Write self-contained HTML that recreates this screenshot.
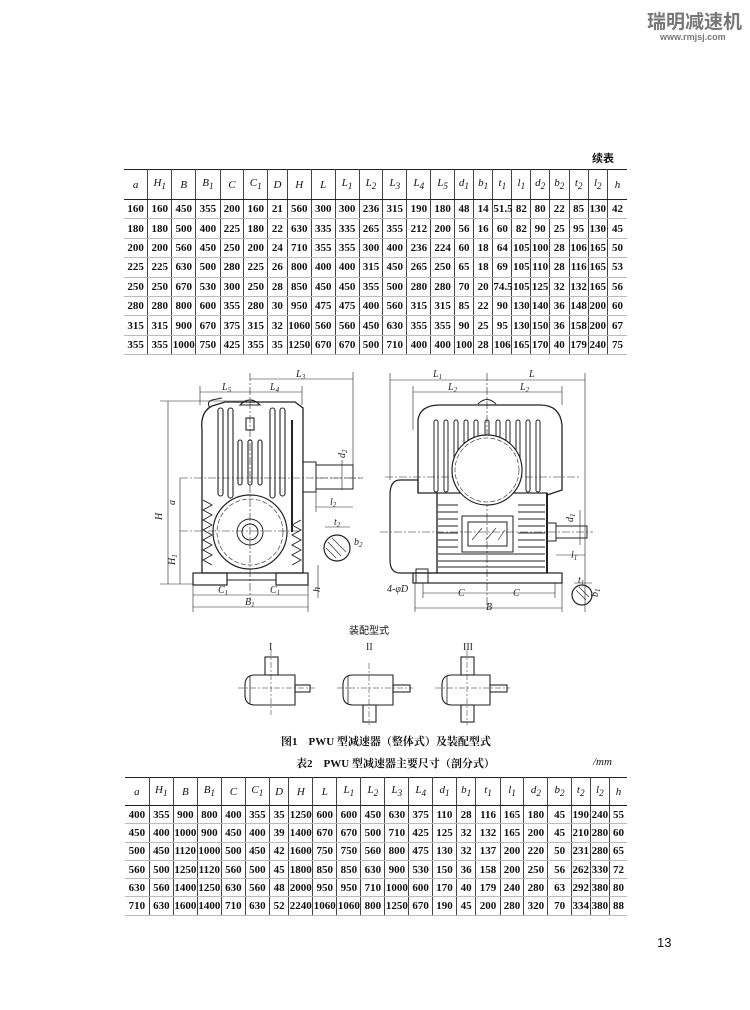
<!DOCTYPE html>
<html><head><meta charset="utf-8">
<style>
body{margin:0;background:#fff;}
#pg{position:relative;width:750px;height:1010px;overflow:hidden;background:#fff;font-family:"Liberation Serif","Noto Serif CJK SC",serif;color:#111;}
.t{position:absolute;border-collapse:collapse;table-layout:fixed;font-size:11px;font-weight:600;}
.t td{text-align:center;padding:0;border-left:1px solid #444;border-bottom:1px solid #bbb;white-space:nowrap;overflow:visible;}
.t td:first-child{border-left:none;}
.t tr.hd td{font-style:italic;font-weight:normal;border-bottom:1.5px solid #222;}
.t{border-top:1.5px solid #222;border-bottom:1.5px solid #222;}
.abs{position:absolute;white-space:nowrap;}
</style></head><body><div id="pg">
<div class="abs" style="left:647px;top:7px;font-family:'Noto Sans CJK SC',sans-serif;font-weight:bold;font-size:19px;color:#777;">瑞明减速机</div>
<div class="abs" style="left:660px;top:32px;font-family:'Liberation Sans',sans-serif;font-weight:bold;font-size:9px;color:#777;">www.rmjsj.com</div>
<div class="abs" style="left:592px;top:150px;font-family:'Noto Sans CJK SC',sans-serif;font-weight:bold;font-size:11px;">续表</div>

<table class="t" style="left:124px;top:169px;width:503px;">
<colgroup><col style="width:23.7px"><col style="width:24px"><col style="width:24px"><col style="width:24.3px"><col style="width:23.7px"><col style="width:24px"><col style="width:19.3px"><col style="width:24.3px"><col style="width:23.7px"><col style="width:24px"><col style="width:23.7px"><col style="width:24px"><col style="width:24px"><col style="width:23.6px"><col style="width:19px"><col style="width:19.4px"><col style="width:19px"><col style="width:19px"><col style="width:18.6px"><col style="width:19.7px"><col style="width:19px"><col style="width:19.3px"><col style="width:19.4px"></colgroup>
<tr class="hd" style="height:30px"><td>a</td><td>H<sub>1</sub></td><td>B</td><td>B<sub>1</sub></td><td>C</td><td>C<sub>1</sub></td><td>D</td><td>H</td><td>L</td><td>L<sub>1</sub></td><td>L<sub>2</sub></td><td>L<sub>3</sub></td><td>L<sub>4</sub></td><td>L<sub>5</sub></td><td>d<sub>1</sub></td><td>b<sub>1</sub></td><td>t<sub>1</sub></td><td>l<sub>1</sub></td><td>d<sub>2</sub></td><td>b<sub>2</sub></td><td>t<sub>2</sub></td><td>l<sub>2</sub></td><td>h</td></tr>
<tr style="height:19.4px"><td>160</td><td>160</td><td>450</td><td>355</td><td>200</td><td>160</td><td>21</td><td>560</td><td>300</td><td>300</td><td>236</td><td>315</td><td>190</td><td>180</td><td>48</td><td>14</td><td>51.5</td><td>82</td><td>80</td><td>22</td><td>85</td><td>130</td><td>42</td></tr>
<tr style="height:19.4px"><td>180</td><td>180</td><td>500</td><td>400</td><td>225</td><td>180</td><td>22</td><td>630</td><td>335</td><td>335</td><td>265</td><td>355</td><td>212</td><td>200</td><td>56</td><td>16</td><td>60</td><td>82</td><td>90</td><td>25</td><td>95</td><td>130</td><td>45</td></tr>
<tr style="height:19.4px"><td>200</td><td>200</td><td>560</td><td>450</td><td>250</td><td>200</td><td>24</td><td>710</td><td>355</td><td>355</td><td>300</td><td>400</td><td>236</td><td>224</td><td>60</td><td>18</td><td>64</td><td>105</td><td>100</td><td>28</td><td>106</td><td>165</td><td>50</td></tr>
<tr style="height:19.4px"><td>225</td><td>225</td><td>630</td><td>500</td><td>280</td><td>225</td><td>26</td><td>800</td><td>400</td><td>400</td><td>315</td><td>450</td><td>265</td><td>250</td><td>65</td><td>18</td><td>69</td><td>105</td><td>110</td><td>28</td><td>116</td><td>165</td><td>53</td></tr>
<tr style="height:19.4px"><td>250</td><td>250</td><td>670</td><td>530</td><td>300</td><td>250</td><td>28</td><td>850</td><td>450</td><td>450</td><td>355</td><td>500</td><td>280</td><td>280</td><td>70</td><td>20</td><td>74.5</td><td>105</td><td>125</td><td>32</td><td>132</td><td>165</td><td>56</td></tr>
<tr style="height:19.4px"><td>280</td><td>280</td><td>800</td><td>600</td><td>355</td><td>280</td><td>30</td><td>950</td><td>475</td><td>475</td><td>400</td><td>560</td><td>315</td><td>315</td><td>85</td><td>22</td><td>90</td><td>130</td><td>140</td><td>36</td><td>148</td><td>200</td><td>60</td></tr>
<tr style="height:19.4px"><td>315</td><td>315</td><td>900</td><td>670</td><td>375</td><td>315</td><td>32</td><td>1060</td><td>560</td><td>560</td><td>450</td><td>630</td><td>355</td><td>355</td><td>90</td><td>25</td><td>95</td><td>130</td><td>150</td><td>36</td><td>158</td><td>200</td><td>67</td></tr>
<tr style="height:19.4px"><td>355</td><td>355</td><td>1000</td><td>750</td><td>425</td><td>355</td><td>35</td><td>1250</td><td>670</td><td>670</td><td>500</td><td>710</td><td>400</td><td>400</td><td>100</td><td>28</td><td>106</td><td>165</td><td>170</td><td>40</td><td>179</td><td>240</td><td>75</td></tr>
</table>

<svg class="abs" style="left:0;top:0" width="750" height="1010" viewBox="0 0 750 1010" font-family="Liberation Serif, serif" font-style="italic" font-size="10" fill="none" stroke="#222" stroke-width="1">
<g>
<line x1="250" y1="373" x2="250" y2="600" stroke-dasharray="8 2 2 2" stroke-width=".6"/>
<line x1="180" y1="478" x2="363" y2="478" stroke-dasharray="8 2 2 2" stroke-width=".6"/>
<line x1="180" y1="531" x2="300" y2="531" stroke-dasharray="8 2 2 2" stroke-width=".6"/>
<path d="M202 573 L202 430 Q200 412 212 406 L225 402 L295 402 L303 408 L303 573 Z" stroke-width="1.3"/>
<path d="M210 408 Q206 402 212 400 L222 398" />
<g stroke-width="1.1">
<rect x="218" y="408" width="5" height="88" rx="2.5"/>
<rect x="228" y="408" width="5" height="90" rx="2.5"/>
<rect x="270" y="408" width="5" height="90" rx="2.5"/>
<rect x="280" y="408" width="5" height="88" rx="2.5"/>
<rect x="238" y="440" width="4" height="45" rx="2"/>
<rect x="248" y="440" width="4" height="45" rx="2"/>
<rect x="258" y="440" width="4" height="45" rx="2"/>
<path d="M240 405 Q250 395 260 405 Z"/>
<rect x="246" y="418" width="8" height="12"/>
<line x1="292" y1="420" x2="292" y2="532" stroke-width="2"/>
</g>
<path d="M203 500 L212 505 L203 510 L212 515 L203 520 L212 525 L203 530 L212 535 L203 540 L212 545 L203 550 L212 555 L203 560 L212 565" stroke-width=".9"/>
<path d="M301 520 L292 525 L301 530 L292 535 L301 540 L292 545 L301 550 L292 555 L301 560 L292 565" stroke-width=".9"/>
<circle cx="250" cy="532" r="37" stroke-width="1.2"/>
<circle cx="250" cy="532" r="33" stroke-dasharray="5 2" stroke-width=".6"/>
<circle cx="250" cy="532" r="13"/>
<circle cx="250" cy="532" r="8"/>
<rect x="193" y="573" width="34" height="12" stroke-width="1.2"/>
<rect x="276" y="573" width="32" height="12" stroke-width="1.2"/>
<line x1="227" y1="580" x2="276" y2="580"/>
<rect x="303" y="462" width="13" height="30"/>
<rect x="316" y="465" width="37" height="24"/>
<line x1="316" y1="478" x2="363" y2="478" stroke-dasharray="8 2 2 2" stroke-width=".6"/>
<circle cx="337" cy="548" r="13" stroke-width="1.2"/>
<path d="M328 542 L341 556 M332 538 L346 552 M326 548 L336 558" stroke-width=".6"/>
<g stroke-width=".6">
<line x1="250" y1="379" x2="353" y2="379"/><line x1="353" y1="372" x2="353" y2="465"/>
<line x1="200" y1="392" x2="302" y2="392"/><line x1="200" y1="386" x2="200" y2="405"/><line x1="302" y1="386" x2="302" y2="405"/>
<line x1="168" y1="401" x2="168" y2="584"/><line x1="160" y1="401" x2="245" y2="401"/><line x1="160" y1="584" x2="193" y2="584"/>
<line x1="180" y1="478" x2="180" y2="584"/>
<line x1="193" y1="595" x2="308" y2="595"/><line x1="193" y1="607" x2="308" y2="607"/>
<line x1="193" y1="585" x2="193" y2="612"/><line x1="308" y1="585" x2="308" y2="612"/>
<line x1="316" y1="507" x2="353" y2="507"/><line x1="316" y1="492" x2="316" y2="512"/>
<line x1="325" y1="527" x2="350" y2="527"/>
<line x1="318" y1="565" x2="318" y2="598"/>
<line x1="342" y1="460" x2="342" y2="490"/>
</g>
</g>
<g fill="#222" stroke="none" font-size="10">
<text x="222" y="390">L<tspan font-size="7" dy="2">5</tspan></text>
<text x="270" y="390">L<tspan font-size="7" dy="2">4</tspan></text>
<text x="296" y="377">L<tspan font-size="7" dy="2">3</tspan></text>
<text x="162" y="520" transform="rotate(-90 162 520)">H</text>
<text x="175" y="505" transform="rotate(-90 175 505)">a</text>
<text x="175" y="565" transform="rotate(-90 175 565)">H<tspan font-size="7" dy="2">1</tspan></text>
<text x="218" y="593">C<tspan font-size="7" dy="2">1</tspan></text>
<text x="270" y="593">C<tspan font-size="7" dy="2">1</tspan></text>
<text x="245" y="605">B<tspan font-size="7" dy="2">1</tspan></text>
<text x="330" y="505">l<tspan font-size="7" dy="2">2</tspan></text>
<text x="334" y="525">t<tspan font-size="7" dy="2">2</tspan></text>
<text x="354" y="545">b<tspan font-size="7" dy="2">2</tspan></text>
<text x="345" y="458" transform="rotate(-90 345 458)">d<tspan font-size="7" dy="2">2</tspan></text>
<text x="320" y="592" transform="rotate(-90 320 592)">h</text>
</g>

<g>
<line x1="487" y1="373" x2="487" y2="607" stroke-dasharray="8 2 2 2" stroke-width=".6"/>
<line x1="385" y1="477" x2="580" y2="477" stroke-dasharray="8 2 2 2" stroke-width=".6"/>
<line x1="380" y1="532" x2="593" y2="532" stroke-dasharray="8 2 2 2" stroke-width=".6"/>
<path d="M418 493 L418 420 Q420 405 440 405 L540 405 Q560 405 562 425 L562 490 L547 495" stroke-width="1.3"/>
<path d="M478 404 Q487 395 496 404"/>
<path d="M418 480 L400 480 Q390 480 390 495 L390 560 Q390 573 400 573 L437 573 L437 493 L418 493 Z" stroke-width="1.2"/>
<rect x="437" y="493" width="110" height="80" stroke-width="1.2"/>
<g stroke-width="1">
<rect x="434" y="420" width="4" height="72" rx="2"/><rect x="444" y="420" width="4" height="72" rx="2"/><rect x="454" y="420" width="4" height="40" rx="2"/><rect x="464" y="420" width="4" height="30" rx="2"/><rect x="474" y="420" width="4" height="22" rx="2"/><rect x="485" y="420" width="4" height="20" rx="2"/><rect x="496" y="420" width="4" height="22" rx="2"/><rect x="506" y="420" width="4" height="30" rx="2"/><rect x="516" y="420" width="4" height="40" rx="2"/><rect x="526" y="420" width="4" height="72" rx="2"/><rect x="536" y="420" width="4" height="72" rx="2"/>
</g>
<circle cx="487" cy="470" r="35" fill="#fff" stroke-width="1.2"/>
<circle cx="487" cy="470" r="32" stroke-dasharray="5 2" stroke-width=".6"/>
<g stroke-width=".9">
<line x1="438" y1="505" x2="458" y2="505"/><line x1="438" y1="512" x2="458" y2="512"/><line x1="438" y1="519" x2="458" y2="519"/><line x1="438" y1="526" x2="458" y2="526"/><line x1="438" y1="533" x2="458" y2="533"/><line x1="438" y1="540" x2="458" y2="540"/><line x1="438" y1="547" x2="458" y2="547"/><line x1="438" y1="554" x2="545" y2="554"/><line x1="438" y1="561" x2="545" y2="561"/><line x1="438" y1="567" x2="545" y2="567"/>
<line x1="518" y1="505" x2="545" y2="505"/><line x1="518" y1="512" x2="545" y2="512"/><line x1="518" y1="519" x2="545" y2="519"/><line x1="518" y1="526" x2="545" y2="526"/><line x1="518" y1="533" x2="545" y2="533"/><line x1="518" y1="540" x2="545" y2="540"/><line x1="518" y1="547" x2="545" y2="547"/>
</g>
<rect x="462" y="516" width="51" height="36"/>
<rect x="468" y="522" width="39" height="24"/>
<path d="M472 540 L482 528 M486 540 L496 528 M498 540 L505 530" stroke-width=".6"/>
<line x1="547" y1="493" x2="547" y2="573" stroke-width="2"/>
<rect x="413" y="573" width="149" height="10" stroke-width="1.2"/>
<rect x="416" y="569" width="12" height="14" stroke-width="1"/>
<rect x="547" y="523" width="9" height="18"/>
<rect x="556" y="526" width="31" height="12"/>
<circle cx="582" cy="595" r="10" stroke-width="1.2"/>
<path d="M576 590 L586 600 M579 587 L589 597" stroke-width=".6"/>
<g stroke-width=".6">
<line x1="390" y1="380" x2="585" y2="380"/><line x1="390" y1="373" x2="390" y2="480"/><line x1="585" y1="373" x2="585" y2="612"/>
<line x1="413" y1="392" x2="562" y2="392"/><line x1="413" y1="386" x2="413" y2="430"/><line x1="562" y1="386" x2="562" y2="405"/>
<line x1="423" y1="593" x2="555" y2="593"/><line x1="415" y1="608" x2="562" y2="608"/>
<line x1="415" y1="583" x2="415" y2="612"/><line x1="562" y1="583" x2="562" y2="612"/><line x1="423" y1="583" x2="423" y2="598"/><line x1="555" y1="583" x2="555" y2="598"/>
<line x1="556" y1="555" x2="585" y2="555"/>
<line x1="580" y1="510" x2="580" y2="545"/>
<line x1="574" y1="583" x2="592" y2="583"/>
</g>
</g>
<g fill="#222" stroke="none" font-size="10">
<text x="433" y="377">L<tspan font-size="7" dy="2">1</tspan></text>
<text x="529" y="377">L</text>
<text x="448" y="390">L<tspan font-size="7" dy="2">2</tspan></text>
<text x="520" y="390">L<tspan font-size="7" dy="2">2</tspan></text>
<text x="387" y="592">4-φD</text>
<text x="458" y="596">C</text>
<text x="513" y="596">C</text>
<text x="486" y="610">B</text>
<text x="571" y="558">l<tspan font-size="7" dy="2">1</tspan></text>
<text x="578" y="583">t<tspan font-size="7" dy="2">1</tspan></text>
<text x="598" y="597" transform="rotate(-90 598 597)">b<tspan font-size="7" dy="2">1</tspan></text>
<text x="573" y="522" transform="rotate(-90 573 522)">d<tspan font-size="7" dy="2">1</tspan></text>
</g>

<g stroke-width="1.1">
<path d="M255 675 L295 675 L295 705 L255 705 Q245 705 245 695 L245 685 Q245 675 255 675 Z"/>
<line x1="250" y1="676" x2="250" y2="704" stroke-width=".8"/>
<rect x="265" y="657" width="13" height="18"/><rect x="295" y="685" width="15" height="7"/>
<path d="M353 675 L393 675 L393 705 L353 705 Q343 705 343 695 L343 685 Q343 675 353 675 Z"/>
<line x1="348" y1="676" x2="348" y2="704" stroke-width=".8"/>
<rect x="363" y="705" width="13" height="17"/><rect x="393" y="685" width="17" height="7"/>
<path d="M452 675 L490 675 L490 705 L452 705 Q442 705 442 695 L442 685 Q442 675 452 675 Z"/>
<line x1="447" y1="676" x2="447" y2="704" stroke-width=".8"/>
<rect x="461" y="657" width="13" height="18"/><rect x="461" y="705" width="13" height="17"/><rect x="490" y="685" width="17" height="7"/>
<g stroke-width=".5" stroke-dasharray="6 2 2 2">
<line x1="238" y1="688" x2="315" y2="688"/><line x1="271" y1="650" x2="271" y2="715"/>
<line x1="337" y1="688" x2="413" y2="688"/><line x1="369" y1="663" x2="369" y2="725"/>
<line x1="435" y1="688" x2="510" y2="688"/><line x1="467" y1="650" x2="467" y2="725"/>
</g>
</g>
<g fill="#222" stroke="none" font-style="normal" font-size="10">
<text x="269" y="650">I</text><text x="366" y="650">II</text><text x="463" y="650">III</text>
</g>
</svg>

<div class="abs" style="left:349px;top:622px;font-family:'Noto Sans CJK SC',sans-serif;font-size:10px;">装配型式</div>
<div class="abs" style="left:281px;top:733px;font-family:'Liberation Serif','Noto Serif CJK SC',serif;font-size:11px;font-weight:bold;">图1　PWU 型减速器（整体式）及装配型式</div>
<div class="abs" style="left:296px;top:755px;font-family:'Liberation Serif','Noto Serif CJK SC',serif;font-size:11px;font-weight:bold;">表2　PWU 型减速器主要尺寸（剖分式）</div>
<div class="abs" style="left:593px;top:756px;font-size:11px;font-style:italic;">/mm</div>

<table class="t" style="left:125px;top:777px;width:502px;">
<colgroup><col style="width:24.3px"><col style="width:24px"><col style="width:24px"><col style="width:24px"><col style="width:24px"><col style="width:24px"><col style="width:19.4px"><col style="width:24px"><col style="width:24px"><col style="width:24px"><col style="width:24px"><col style="width:24px"><col style="width:23.6px"><col style="width:24px"><col style="width:19.4px"><col style="width:24.3px"><col style="width:23.7px"><col style="width:24px"><col style="width:23.3px"><col style="width:19px"><col style="width:19.3px"><col style="width:17.4px"></colgroup>
<tr class="hd" style="height:28px"><td>a</td><td>H<sub>1</sub></td><td>B</td><td>B<sub>1</sub></td><td>C</td><td>C<sub>1</sub></td><td>D</td><td>H</td><td>L</td><td>L<sub>1</sub></td><td>L<sub>2</sub></td><td>L<sub>3</sub></td><td>L<sub>4</sub></td><td>d<sub>1</sub></td><td>b<sub>1</sub></td><td>t<sub>1</sub></td><td>l<sub>1</sub></td><td>d<sub>2</sub></td><td>b<sub>2</sub></td><td>t<sub>2</sub></td><td>l<sub>2</sub></td><td>h</td></tr>
<tr style="height:18.3px"><td>400</td><td>355</td><td>900</td><td>800</td><td>400</td><td>355</td><td>35</td><td>1250</td><td>600</td><td>600</td><td>450</td><td>630</td><td>375</td><td>110</td><td>28</td><td>116</td><td>165</td><td>180</td><td>45</td><td>190</td><td>240</td><td>55</td></tr>
<tr style="height:18.3px"><td>450</td><td>400</td><td>1000</td><td>900</td><td>450</td><td>400</td><td>39</td><td>1400</td><td>670</td><td>670</td><td>500</td><td>710</td><td>425</td><td>125</td><td>32</td><td>132</td><td>165</td><td>200</td><td>45</td><td>210</td><td>280</td><td>60</td></tr>
<tr style="height:18.3px"><td>500</td><td>450</td><td>1120</td><td>1000</td><td>500</td><td>450</td><td>42</td><td>1600</td><td>750</td><td>750</td><td>560</td><td>800</td><td>475</td><td>130</td><td>32</td><td>137</td><td>200</td><td>220</td><td>50</td><td>231</td><td>280</td><td>65</td></tr>
<tr style="height:18.3px"><td>560</td><td>500</td><td>1250</td><td>1120</td><td>560</td><td>500</td><td>45</td><td>1800</td><td>850</td><td>850</td><td>630</td><td>900</td><td>530</td><td>150</td><td>36</td><td>158</td><td>200</td><td>250</td><td>56</td><td>262</td><td>330</td><td>72</td></tr>
<tr style="height:18.3px"><td>630</td><td>560</td><td>1400</td><td>1250</td><td>630</td><td>560</td><td>48</td><td>2000</td><td>950</td><td>950</td><td>710</td><td>1000</td><td>600</td><td>170</td><td>40</td><td>179</td><td>240</td><td>280</td><td>63</td><td>292</td><td>380</td><td>80</td></tr>
<tr style="height:18.3px"><td>710</td><td>630</td><td>1600</td><td>1400</td><td>710</td><td>630</td><td>52</td><td>2240</td><td>1060</td><td>1060</td><td>800</td><td>1250</td><td>670</td><td>190</td><td>45</td><td>200</td><td>280</td><td>320</td><td>70</td><td>334</td><td>380</td><td>88</td></tr>
</table>

<div class="abs" style="left:657px;top:935px;font-family:'Liberation Sans',sans-serif;font-size:13px;">13</div>
</div></body></html>
